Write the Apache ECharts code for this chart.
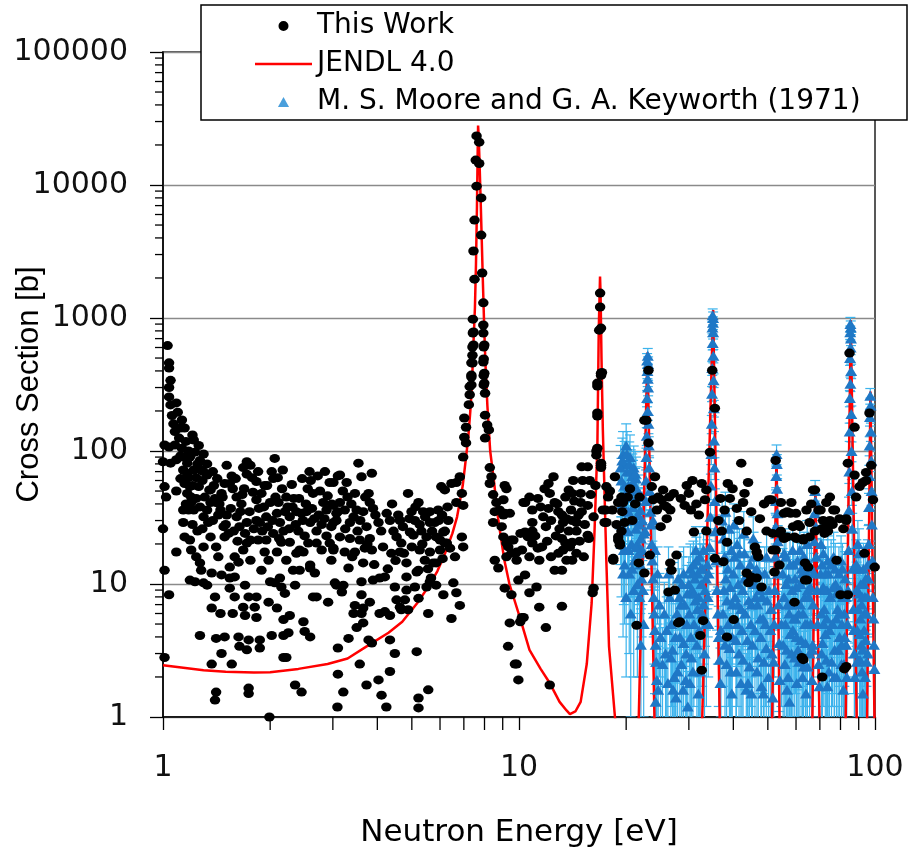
<!DOCTYPE html>
<html><head><meta charset="utf-8">
<script src="https://cdn.jsdelivr.net/npm/echarts@6/dist/echarts.min.js"></script>
<style>html,body{margin:0;padding:0;background:#fff}#c{width:908px;height:850px}</style>
</head><body><div id="c"></div>
<script>
// ---------- axis ticks ----------
const xTickValues = [1, 10, 100];
const yTickValues = [1, 10, 100, 1000, 10000, 100000];
const minorSteps = [2, 3, 4, 5, 6, 7, 8, 9];

// ---------- This Work [E (eV), cross section (b)] ----------
const workLow = [
[1.03,620],[1.04,460],[1.04,420],[1.05,340],[1.04,300],[1.04,255],[1.05,222],[1.09,230],[1.10,196],[1.13,171],[1.12,149],[1.15,149],[1.21,132],[1.22,121],[1.01,111],[1.04,107],[1.08,111],[1.13,105],[1.00,83],[1.05,81],[1.01,54],[1.02,45],[1.00,26],[1.09,50],[1.01,12.7],[1.04,8.3],[1.01,2.8],[1.09,17.4],
[1.06,185],[1.07,160],[1.08,140],[1.11,125],[1.16,118],[1.18,100],[1.12,92],[1.09,86],[1.26,110],[1.30,95],[1.33,80],[1.38,70],[1.42,62],[1.33,66],[1.29,60],[1.40,44],[1.44,40],[1.38,30],[1.48,27],[1.55,37],[1.58,25],[1.66,40],[1.69,52],[1.65,35],[1.96,55],[1.92,38],[2.04,24],[2.24,38],[2.33,44],[2.52,40],[2.55,52],[2.60,60],[2.76,50],[2.85,70],[2.50,23],[2.88,23],[2.42,18],[1.51,78],
[1.27,4.1],[1.37,2.5],[1.41,1.54],[1.40,1.34],[1.41,3.9],[1.46,3.0],[1.49,4.0],[1.56,2.5],[1.63,4.0],[1.64,3.4],[1.72,3.2],[1.74,3.8],[1.74,1.65],[1.74,1.5],[1.87,3.8],[1.87,3.3],[1.99,1.0],[2.02,4.1],[2.18,4.1],[2.25,4.3],[2.18,2.8],[2.22,2.8],[2.35,1.74],[2.45,1.54],[2.48,5.2],[2.50,4.4],[2.59,4.0],
[1.37,6.6],[1.40,8.0],[1.45,6.0],[1.57,6.0],[1.59,8.0],[1.68,6.7],[1.70,5.8],[1.74,8.0],[1.83,8.0],[1.81,6.7],[1.83,5.6],[1.98,7.3],[2.09,6.6],[2.20,8.5],[2.27,5.8],[2.18,5.4],[2.35,9.8],[2.64,8.0],[2.70,8.0],[2.91,7.3],[1.30,10.2],[1.19,10.7],[1.23,10.4],[1.33,9.8],[1.37,12.1],[1.46,11.7],[1.54,11.1],[1.54,9.3],[1.59,11.3],[1.70,9.8],[1.89,12.7],[1.98,15.1],[2.00,10.4],[2.06,10.2],[2.13,11.1],[2.15,9.5],[2.32,12.7],[2.42,12.7],[2.59,13.2],[2.67,12.1],
[1.72,83],[1.76,78],[2.06,88],[2.02,70],[2.10,63],[2.30,56],[2.72,65],[2.94,58],[1.72,67],[1.78,63],[1.83,59],[1.49,57],[1.46,48],[1.54,57],[1.36,51],[1.61,45],[1.79,49],[1.83,43],[1.89,48],[2.00,41],[2.11,41],[2.22,45],[2.37,35],[2.45,34],[2.64,48],[2.82,41],[2.88,36],
[1.14,36],[1.18,36],[1.20,41],[1.27,38],[1.30,32],[1.34,29],[1.41,41],[1.45,36],[1.51,33],[1.61,32],[1.64,27],[1.72,29],[1.83,30],[1.87,29],[1.95,32],[2.09,34],[2.13,29],[2.18,25],[2.27,32],[2.40,25],[2.59,29],[2.70,25],[2.79,28],[2.97,27],
[1.14,29],[1.15,22.6],[1.19,21.4],[1.20,18],[1.24,16],[1.27,14.4],[1.28,12.7],[1.30,19],[1.36,22.6],[1.43,16],[1.41,19],[1.49,22.6],[1.54,13.4],[1.59,16],[1.63,14.6],[1.68,18],[1.72,20.3],[1.76,21.4],[1.76,15.1],[1.85,21.4],[1.93,17.4],[1.95,21.4],[2.09,17.4],[2.15,20.6],[2.22,15.1],[2.27,20.6],[2.37,17],[2.48,17.4],[2.56,20.3],[2.59,13.9],[2.70,20.3],[2.79,18],[2.94,20.3],
[1.14,90],[1.17,81],[1.14,72],[1.18,63],[1.15,57],[1.19,54],[1.17,48],[1.20,45],[1.22,72],[1.24,63],[1.27,85],[1.28,72],[1.26,54],[1.19,90],[1.23,98],[1.24,44],[1.22,36],[1.31,45],[1.35,51],
[1.16,40],[1.21,28],[1.25,25],[1.29,26],[1.33,36],[1.36,41],[1.39,55],[1.43,33],[1.47,45],[1.50,28],[1.53,24],[1.57,52],[1.60,62],[1.62,21],[1.67,47],[1.70,24],[1.75,35],[1.80,26],[1.86,37],[1.90,25],[1.93,55],[1.97,27],[2.03,30],[2.07,45],[2.12,22],[2.16,52],[2.20,35],[2.26,26],[2.31,38],[2.36,28],[2.41,44],[2.47,30],[2.53,35],[2.62,37],[2.66,31],[2.74,33],[2.84,31],[2.90,46],[2.98,40],[2.04,62],[2.17,72],[2.46,62],[2.58,70],[1.85,70],[1.68,75],[1.56,65],[1.21,55],[1.17,68],[1.12,62],[1.25,80],[1.30,70]
];
const workMid = [
[3.10,65],[3.10,35],[3.01,39],[3.07,30],[3.10,3.3],[3.10,2.1],[3.09,1.19],[3.07,9.8],[3.01,18.6],
[7.45,785],[7.45,627],[7.40,525],[7.40,459],[7.35,372],[7.35,314],[7.27,265],[7.23,223],[7.02,177],[7.10,151],[7.02,127],[7.10,115],[6.97,90],[6.82,64],[6.67,58],[6.46,57],[6.19,51],[6.05,54],[6.91,48],[6.67,41],[6.97,39],[6.33,30],[6.91,22.6],[6.97,19],[6.13,24.6],[6.19,20.3],[6.40,18.6],[6.00,18],[6.61,16],[5.85,14.4],[5.66,11.1],[5.85,9.8],[6.54,10.2],[6.67,8.6],[6.82,6.9],[6.13,8.3],[6.46,5.5],[5.56,6.0],[5.16,3.1],[5.22,1.39],[5.22,1.17],[5.56,1.6],[4.34,2.2],[4.24,1.19],[4.11,1.46],[3.73,1.74],[4.03,1.9],[3.57,2.5],[3.21,1.54],[4.48,3.0],[4.34,3.8],[3.78,3.8],[3.86,3.6],[3.32,3.9],[3.50,4.7],[3.65,5.1],[3.61,6.0],[3.43,6.0],[3.46,6.9],[3.65,6.6],[3.81,7.3],[3.61,8.3],[3.61,10.4],[3.04,10.2],[3.21,9.8],[3.18,8.7],[3.89,10.7],[4.06,11.1],[4.20,11.3],[4.06,6.0],[4.20,6.2],[4.34,5.8],[4.48,9.5],[4.53,7.6],[4.63,6.7],[4.78,7.6],[4.83,9.0],[4.83,11.3],[5.10,9.5],[5.22,12.7],[5.22,7.8],[5.50,9.5],[5.62,10.4],[4.88,6.4],[4.67,6.4],
[3.54,81],[3.86,68],[3.61,64],[3.14,66],[3.28,58],[3.01,58],[3.46,48],[3.78,48],[3.81,41],[3.14,41],[3.24,36],[3.43,32],[3.07,34],[3.65,35],[3.89,37],[3.35,29],[3.01,29],[3.73,27],[4.03,29],[3.14,22.6],[3.35,22],[3.57,21.4],[3.81,22],[3.69,18.6],[3.01,18],[3.24,17.4],[3.46,17.4],[3.86,18],[2.97,15.1],[3.32,13.2],[3.65,14.4],[4.34,30],[4.63,30],[4.44,25],[4.53,22.6],[4.67,20.3],[4.38,17],[4.63,17.4],[4.88,48],[4.99,35],[5.22,41],[5.10,30],[5.38,35],[5.62,35],[5.93,36],[4.94,24.6],[5.26,28],[5.62,29],[5.80,29],[5.50,22.6],[5.85,22.6],[5.05,23.3],[5.26,18],[5.62,17.4],[5.44,15.1],[4.83,14.4],[5.16,12.3],[5.74,14.4],[6.00,21.4],[6.27,20.3],[6.19,25],
[3.20,50],[3.30,45],[3.38,40],[3.50,36],[3.58,30],[3.70,45],[3.95,33],[4.10,25],[4.25,34],[4.40,40],[4.58,33],[4.72,27],[4.92,31],[5.12,38],[5.32,25],[5.45,32],[5.70,25],[5.95,30],[6.08,33],[6.30,38],[3.25,26],[3.52,25],[3.75,20],[4.15,19],[4.50,15],[4.75,17],[5.00,19],[5.35,20],[5.55,13],[6.10,15.5],[3.40,16],[3.92,14],[4.28,13],
[7.94,770],[7.99,627],[7.94,466],[7.99,385],[7.99,324],[8.03,272],[8.03,186],[8.14,157],[8.23,144],[8.03,125],[8.28,75],[8.37,64],[8.28,57],[8.46,47],[8.64,41],[8.82,36],[8.55,35],[9.04,33],[8.46,29],[8.94,27],[9.12,55],[9.22,52],[9.42,34],[9.04,22.6],[9.22,20.3],[9.52,21.4],[9.52,17],[8.55,15.1],[8.75,13.2],[9.85,15.1],[9.12,9.3],[9.52,8.3],[9.96,10.7],[9.42,5.1],[9.32,3.4],[9.85,2.5],[9.96,1.9],[9.04,43],[9.12,34],[9.64,21.4],[9.33,19],[9.85,17.4],[9.22,16],[9.74,2.5],
[7.60,23400],[7.73,21000],[7.56,15400],[7.73,14500],[7.60,9800],[7.83,8000],[7.50,5450],[7.83,4200],[7.45,3190],[7.88,2180],[7.50,1960],[7.94,1300],[7.42,980],[7.94,885],[7.42,771],[7.40,605],[7.96,605],[7.96,492],[7.35,460],[7.96,370],[7.35,360],[7.96,314],[7.27,305]
];
const workHigh = [
[10.19,18],[10.30,41],[10.41,24],[10.19,5.6],[10.08,5.2],
[15.0,76],[15.6,76],[14.2,60],[15.1,60],[15.8,60],[16.4,55],[12.5,64],[12.1,57],[11.8,52],[12.2,48],[13.8,51],[14.1,48],[14.9,48],[10.7,45],[10.4,41],[11.3,44],[12.6,41],[12.1,37],[12.9,35],[14.9,41],[15.6,39],[15.0,35],[11.7,32],[13.2,33],[13.6,31],[14.1,30],[14.5,29],[10.9,29],[13.3,29],[13.8,25],[14.5,25],[10.9,25],[10.4,24.6],[10.1,24],[10.6,22.6],[15.6,23.3],[13.2,22],[13.5,20.3],[14.1,20.6],[10.9,20.3],[11.3,18.6],[12.3,16],[12.9,17],[13.3,18],[14.1,15.1],[13.6,15.1],[14.5,17],[10.7,16],[11.4,15.1],[12.6,12.7],[13.2,12.7],[10.4,11.7],[11.2,9.5],[10.7,8.6],[11.4,6.7],[13.2,6.8],[10.3,5.6],[11.9,4.7],[12.2,1.74],
[10.9,36],[11.5,38],[11.9,27],[12.3,30],[12.8,40],[13.0,26],[13.5,45],[14.0,36],[14.3,42],[14.7,33],[15.3,28],[15.9,47],[11.1,23],[11.6,19],[12.0,21],[12.7,23],[13.9,19],[14.8,21],[15.2,16],
[16.9,1540],[16.9,1210],[16.8,810],[17.0,370],[16.6,308],[16.6,183],[16.5,100],[16.5,93],[17.0,75],[16.1,8.6],[15.7,22],[16.2,32],[17.0,385],[16.6,324],[16.6,193],[16.6,105],[17.0,78],[16.2,9.3],[17.0,840],[17.1,390],[17.0,81],
[17.6,54],[17.8,45],[17.5,36],[17.6,29],[18.6,64],[19.0,41],[19.2,20.3],[19.0,22.6],[18.4,15.1],[19.8,29],[20.2,45],[21.4,4.9],[22.5,12.1],[22.5,170],
[19.4,45],[19.6,41],[17.2,36],[17.4,29],[19.4,25],[19.0,21.4],[19.2,19.6],[18.4,15.6],
[18.0,50],[18.3,36],[18.8,28],[19.5,35],[20.5,52],[20.8,30],[21.2,40],[24.4,36],[25.6,39],[26.4,45],[27.2,48],[28.5,44],[29.2,39],[29.6,55],[31.5,40],[32.0,33],[36.8,44],[37.8,36],[39.8,52],[41.5,30],[44.0,58],[47.5,31],[48.8,40],[58.2,41],[60.0,34],[66.2,40],[70.8,26],[76.0,28],[79.5,31],[81.5,26],
[24.1,64],[25.4,51],[24.6,45],[23.8,43],[25.1,43],[26.0,38],[26.6,36],[26.0,31],[25.0,27],[21.8,45],[23.1,405],[22.8,170],[23.1,115],[23.3,16.5],[21.7,14.4],[23.6,54],[26.6,14.4],[26.8,12.7],[27.7,16.5],[26.3,8.7],[27.4,9],[28.3,5.2],[32.3,4.1],[32.6,2.25],[32.9,5.3],[30.0,48],[30.7,60],[32.6,57],[30.4,36],[31.0,24.6],[33.6,51],[33.3,43],[33.6,25],[34.4,98],[34.9,405],[35.5,210],[35.5,15.6],[36.3,30],[37.1,25],[38.4,20.6],[37.5,14.7],[38.6,57],[39.1,44],[42.1,81],[43.0,48],[42.6,41],[44.9,35],[43.6,25],[40.9,37],[46.0,19],[46.5,17.4],[43.6,12.1],[44.9,11.3],[44.1,10.2],[46.5,11.1],[48.0,9.5],[38.4,4.0],[40.1,5.4],[49.6,25],[51.6,24],[51.1,43],[52.6,85],[54.4,41],[55.5,34],[56.7,35],[57.9,34],[54.4,25],[55.5,22],[56.7,22.6],[51.6,18],[53.9,13.9],[58.9,27],[60.2,22],[62.9,22],[64.2,36],[61.5,27],[67.0,51],[69.4,36],[67.8,25],[65.5,22.6],[73.0,41],[76.4,36],[74.7,30],[73.8,25],[71.5,30],[64.9,13.4],[63.6,10.7],[78.0,15.1],[83.0,30],[83.9,81],[87.6,66],[80.0,8.3],[83.9,8.3],[84.8,545],[87.6,151],[90.5,54],[92.4,58],[94.4,60],[96.5,193],[97.6,78],[98.7,43],[99.8,13.4],[62.9,2.7],[71.1,2.0],[82.0,2.3],[28.0,5.1],[52.2,12.3],
[47.0,16],[50.4,43],[60.8,28],[65.5,29],[62.9,21.4],[59.4,22.6],[53.9,24],[67.8,51],[70.3,36],[74.7,45],[77.2,36],[73.0,27],[72.2,24],[63.6,14.4],[64.4,10.7],[52.6,18],[59.4,7.3],[62.3,2.8],[83.0,2.4],[83.0,31],[88.5,45],[94.4,69],[93.4,17]
];

// ---------- JENDL 4.0 evaluated curve ----------
const jendlE = [1.0,1.3,1.5,1.8,2.0,2.4,2.9,3.3,3.8,4.3,4.7,5.2,5.6,5.9,6.2,6.5,6.7,6.95,7.1,7.2,7.3,7.37,7.45,7.52,7.57,7.62,7.655,7.675,7.7,7.74,7.8,7.86,7.92,7.99,8.05,8.15,8.3,8.5,8.75,9.1,9.4,10.1,10.7,11.5,12.2,13.0,13.6,13.9,14.4,14.9,15.5,16.0,16.3,16.6,16.75,16.89,16.95,17.05,17.2,17.6,17.9,18.6,19.2,21.6,22.95,24.1,32.6,35.1,36.7,51.3,52.9,54.0,66.6,68.0,70.0,82.6,85.5,89.0,94.9,97.1,99.8];
const jendlXS = [2.45,2.25,2.19,2.16,2.17,2.3,2.5,2.75,3.5,4.3,5.2,7.3,9.8,12.5,17,24,32,55,90,125,200,300,650,1200,2500,7000,18000,28000,24000,16000,8000,3800,1800,800,450,220,100,60,30,15,10,5.4,3.2,2.3,1.8,1.3,1.12,1.05,1.1,1.3,2.5,7.2,25,107,810,2050,1500,500,144,14.4,3.4,1.0,0.4,0.6,550,0.6,0.7,1150,0.7,0.7,95,0.7,0.7,55,0.7,0.7,960,0.7,0.7,280,0.7];

// ---------- M. S. Moore and G. A. Keyworth (1971) [E, xs, error] ----------
const mooreA = [
[19.4,60,28],[19.6,95,45],[19.8,80,38],[20.0,110,50],[20.1,70,32],[20.3,55,27],[20.5,90,42],[20.6,45,22],[20.8,65,30],[20.9,38,18],[21.0,75,34],[21.1,30,15],[21.2,50,24],[21.3,26,13],[21.4,42,20],[21.5,20,11],[21.6,33,16],[21.7,17,10],[21.8,28,14],[21.9,14,8],[22.0,22,12],[22.1,11,7],[22.2,18,11],[22.3,9,7],[19.5,40,20],[19.9,30,16],[20.2,25,14],[20.7,20,12],[21.1,15,10],[21.5,10,8],[20.4,12,9],[19.7,18,11],
[19.3,28,14],[19.9,48,22],[20.3,35,17],[20.7,55,25],[21.3,62,28],[20.0,8,6],[20.6,6,5],[21.0,9,7],[19.6,12,8],
[19.3,75,35],[19.5,85,40],[19.8,55,26],[20.1,95,45],[20.4,80,37],[20.6,70,32],[20.9,58,27],[21.2,68,31],[21.4,52,24],[21.7,45,21],[21.9,36,17],[22.2,30,15],[22.4,24,12],[19.4,20,12],[19.8,14,9],[20.3,18,10],[20.8,13,8],[21.3,19,11],[21.8,8,6],[22.4,5,4],[22.0,3.5,3],
[22.9,480,60],[23.0,520,70],[23.05,450,60],[22.95,400,50],[23.0,350,45],[23.05,300,40],[22.9,250,35],[23.0,200,30],[23.1,160,25],[22.85,130,20],[23.15,110,18],[22.8,90,15],[23.2,75,14],[22.75,60,12],[23.3,50,10],[22.7,42,10],[23.4,35,9],[23.5,28,8],[22.6,25,8],[23.6,20,7],[23.7,15,6],[23.8,11,5],[23.9,8,4],[24.0,6,3.5],[24.1,4.5,3],[24.2,3.5,2.5],[24.3,2.6,2],[24.4,1.9,1.5],[24.2,1.3,1.1],
[23.8,30,12],[24.1,18,9],[24.5,12,7],[24.8,7,5],[25.0,4,3.2],[25.3,2.5,2.2],[24.6,1.6,1.4],[25.8,3,2.5],[26.2,1.8,1.5]
];
const mooreB = [
[26.5,8,5],[26.8,5,3.8],[27.0,3.2,2.6],[27.3,2.0,1.7],[27.6,1.4,1.2],[27.8,6,4.2],[28.0,11,6.5],[28.3,4,3.2],[28.6,2.5,2.1],[28.9,1.6,1.4],[29.2,7,4.6],[29.5,3,2.5],[29.8,1.2,1.0],[30.0,10,6],[30.3,13,7],[30.6,9,5.5],[30.9,14,7],[31.2,11,6],[31.5,15,7.5],[31.8,12,6.5],[32.0,8,5],[32.2,16,8],[32.5,10,6],[32.8,13,7],[33.0,7,4.5],[31.0,5,3.8],[31.6,3.5,2.8],[32.3,2.2,1.9],[30.5,2.8,2.3],
[27.1,9,5.5],[28.5,7,4.5],[29.0,12,7],[29.6,5,3.8],[30.2,1.8,1.6],[31.3,7.5,4.8],[31.9,1.5,1.3],[33.2,3,2.5],[33.5,11,6.5],
[25.6,6,4.3],[26.0,4.5,3.5],[26.3,12,7],[26.7,2.8,2.3],[27.1,1.6,1.4],[27.5,4,3.1],[27.9,2.2,1.9],[28.2,8,5],[28.7,10,6],[29.0,3.6,2.9],[29.4,1.9,1.7],[29.7,8.5,5.3],[30.1,6,4.3],[30.4,4,3.2],[30.7,12,7],[30.8,2.2,1.9],[31.1,8.5,5.3],[31.4,18,9],[31.7,6.5,4.5],[32.1,4.5,3.5],[32.4,13,7],[32.7,6,4.3],[33.0,18,9],[33.3,9,5.6],[33.6,5,3.8],[33.8,14,7.5],
[35.0,1050,120],[35.1,1000,110],[35.05,920,100],[34.95,850,90],[35.1,780,85],[35.0,650,75],[35.15,520,60],[34.9,420,50],[35.2,340,40],[34.85,270,35],[35.25,210,30],[34.8,160,25],[35.3,120,20],[34.7,95,16],[35.4,75,14],[34.6,55,12],[35.5,42,10],[34.5,32,9],[35.6,25,8],[34.3,19,7],[35.8,15,6],[34.1,12,5],[36.0,9,4.5],[36.2,6,3.5],[36.4,4,2.8],[36.6,2.7,2.1],[36.8,1.8,1.5],[33.9,8,4],[34.0,5,3]
];
const mooreC = [
[37.2,30,13],[37.5,22,10],[37.8,16,8.5],[38.1,11,6.5],[38.4,7.5,5],[38.7,5,3.8],[39.0,3.3,2.7],[39.3,2.2,1.9],[39.6,1.5,1.3],[38.0,35,14],[38.9,26,11],[39.5,18,9],[40.0,12,7],[40.5,8,5.2],[41.0,5,3.8],[41.5,3,2.5],[42.0,1.8,1.6],[40.2,28,12],[41.0,20,10],[41.8,14,8],[42.5,9,5.8],[43.2,6,4.4],[43.8,3.8,3],[44.4,2.4,2],[45.0,1.5,1.3],[43.0,17,9],[44.0,11,6.5],[45.0,7,5],[46.0,4.5,3.6],[47.0,2.8,2.3],[48.0,1.7,1.5],[46.5,13,7.5],[47.5,9,5.8],[48.5,5.5,4],[49.5,3.3,2.7],[50.2,2.0,1.7],[49.0,12,7],[45.5,22,10],[42.8,24,11],
[36.9,4.5,3.5],[37.6,9,5.5],[38.3,2.5,2.1],[39.8,7,4.5],[40.8,2.2,1.9],[41.3,10,6],[42.3,4.5,3.5],[44.0,1.8,1.6],[44.8,5,3.8],[45.8,10,6],[46.8,7,4.6],[47.8,4,3.2],[48.8,2.6,2.2],[49.8,7.5,4.8],[50.8,4.5,3.5],
[37.4,6,4.3],[37.9,3.5,2.8],[38.6,13,7.2],[39.2,9.5,5.8],[39.7,4,3.2],[40.3,16,8.5],[40.7,3.8,3],[41.2,7,4.6],[41.6,17,9],[42.1,6.5,4.5],[42.6,2.7,2.3],[43.0,11,6.5],[43.5,1.6,1.4],[44.2,7.5,4.8],[44.6,14,7.5],[45.3,3.5,2.8],[45.6,16,8.5],[46.2,8,5.2],[46.6,2.2,1.9],[47.2,12,7],[47.6,5.5,4],[48.2,8,5.2],[48.6,1.5,1.3],[49.2,5,3.8],[49.6,16,8.5],[50.4,9,5.6],[51.0,6.5,4.5],[51.3,3,2.5],
[52.9,95,16],[53.0,80,14],[52.8,65,12],[53.1,52,10],[52.7,42,9],[53.2,34,8],[52.6,27,7],[53.3,21,6.5],[52.5,16,6],[53.4,12,5],[52.3,9,4.5],[53.6,7,3.8],[52.1,5,3],[53.8,3.6,2.5],[51.9,2.6,2],[54.0,1.9,1.5],[51.6,1.4,1.2],
[55,12,6.5],[55.5,8,5],[56,5,3.8],[56.5,3.2,2.6],[57,2,1.7],[57.5,1.3,1.1],[56.2,16,8.5],[57.2,11,6.5],[58,7,4.6],[58.8,4.5,3.5],[59.5,2.8,2.3],[60.3,1.8,1.6],[59,14,7.5],[60,9.5,5.8],[61,6,4.4],[62,3.8,3],[63,2.4,2],[64,1.5,1.3],[61.5,18,9],[62.5,12,7],[63.5,8,5.2],[64.5,5,3.8],[65.5,3,2.5],[66.5,1.9,1.6],[64.5,20,10],[65.5,14,7.5],
[55.8,2.5,2.1],[56.8,7,4.6],[57.8,4.2,3.3],[58.5,9,5.6],[59.8,5.5,4],[60.8,3.2,2.6],[61.8,10,6],[62.8,6,4.3],[63.8,3.6,2.9],[64.8,9,5.6],[66.0,5,3.8],
[54.6,5,3.8],[55.2,3.5,2.8],[55.6,17,9],[56.3,10,6],[56.6,1.6,1.4],[57.4,6,4.3],[57.7,14,7.5],[58.3,3,2.5],[58.7,18,9],[59.2,5.5,4],[59.6,11,6.5],[60.2,4,3.2],[60.6,15,8],[61.2,2.6,2.2],[61.6,7,4.6],[62.2,13,7.2],[62.6,2,1.7],[63.2,16,8.5],[63.6,5,3.8],[64.2,12,7],[64.6,2.4,2.1],[65.2,8,5.2],[65.8,9.5,5.8],[66.3,13,7.2],[66.6,3.2,2.6]
];
const mooreD = [
[67.9,50,10],[68.0,42,9],[67.7,34,8],[68.2,27,7],[67.5,21,6.5],[68.4,16,6],[67.3,12,5],[68.7,9,4.5],[67.0,7,3.8],[69.0,5,3],[66.8,3.5,2.5],[69.4,2.5,2],[69.8,1.7,1.4],
[70.5,20,10],[71,14,7.5],[71.5,9.5,5.8],[72,6.5,4.5],[72.5,4.2,3.3],[73,2.7,2.3],[73.5,1.7,1.5],[74,12,7],[75,8,5.2],[76,5,3.8],[77,3.2,2.6],[78,2,1.7],[76.5,16,8.5],[77.5,10,6],[78.5,6.5,4.5],[79.5,4,3.2],[80.5,2.5,2.1],[81.5,1.6,1.4],[80,9,5.6],[81,13,7.2],[82,6,4.3],[83,3.5,2.8],
[70.8,3,2.5],[71.8,5,3.8],[73.3,9,5.6],[74.5,4.5,3.5],[75.5,2.6,2.2],[77.8,5.5,4],[79.0,9,5.6],[80.8,5,3.8],[82.4,11,6.5],
[70.3,12,7],[70.6,6,4.3],[71.2,3.6,2.9],[71.6,17,9],[72.2,9,5.6],[72.7,12,7],[73.2,5.5,4],[73.7,15,8],[74.2,2.2,1.9],[74.8,8,5.2],[75.3,14,7.5],[75.8,5,3.8],[76.3,9.5,5.8],[76.8,2,1.7],[77.3,13,7.2],[78.2,8.5,5.3],[78.8,3.2,2.6],[79.2,12,7],[79.8,6,4.3],[80.3,15,8],[80.6,3.5,2.8],[81.2,8,5.2],[81.8,2.5,2.1],[82.2,4,3.2],[82.8,8,5.2],[83.3,2,1.7],
[85.3,900,110],[85.5,850,100],[85.2,780,90],[85.6,700,80],[85.4,600,70],[85.1,500,60],[85.7,400,50],[85.3,320,40],[85.0,250,35],[85.8,190,28],[84.9,140,22],[85.9,100,17],[84.7,70,13],[86.1,50,11],[84.5,36,9],[86.3,26,8],[84.3,18,7],[86.6,13,5.5],[84.0,9,4.5],[86.9,6.5,3.7],[87.2,4.5,3],[87.5,3,2.2],[87.8,2,1.6],[83.7,5,3],
[89.5,20,10],[90,13,7.2],[90.5,8.5,5.4],[91,5.5,4],[91.5,3.5,2.8],[92,2.2,1.9],[92.5,1.5,1.3],[93,10,6],[93.5,6,4.3],[94,3.8,3],
[88.8,9,5.6],[89.2,4.5,3.5],[90.8,2.7,2.3],[92.2,8,5.2],[93.8,2,1.7],[94.6,6,4.3],[95.4,3,2.5],
[88.6,14,7.5],[89.0,2.6,2.2],[89.7,6.5,4.5],[90.2,17,9],[90.6,4.2,3.3],[91.2,10,6],[91.8,7,4.6],[92.3,3.2,2.6],[92.8,13,7.2],[93.2,4.5,3.5],[93.7,8,5.2],[94.2,11,6.5],[94.8,2.6,2.2],[95.2,8,5.2],[95.5,14,7.5],
[97.0,260,35],[97.2,220,30],[96.8,180,26],[97.4,140,22],[96.6,110,18],[97.6,85,15],[96.4,65,13],[97.8,50,11],[96.2,38,10],[98.0,28,8.5],[96.0,20,7.5],[98.3,15,6],[95.8,11,5],[98.6,8,4],[99.0,5.5,3.3],[99.3,3.5,2.5],[99.6,2.3,1.9]
];

// ---------- build ----------
const thisWork = workLow.concat(workMid, workHigh);
const moore = mooreA.concat(mooreB, mooreC, mooreD);
const jendl = jendlE.map((e, i) => [e, jendlXS[i]]);
const xMinor = [], yMinor = [];
xTickValues.slice(0, -1).forEach(d => minorSteps.forEach(m => xMinor.push(m * d)));
yTickValues.slice(0, -1).forEach(d => minorSteps.forEach(m => yMinor.push(m * d)));

const NAME_WORK = 'This Work', NAME_JENDL = 'JENDL 4.0', NAME_MOORE = 'M. S. Moore and G. A. Keyworth (1971)';
const tickFont = 'DejaVu Sans';

const chart = echarts.init(document.getElementById('c'), null, {renderer: 'canvas'});
chart.setOption({
  animation: false,
  backgroundColor: '#fff',
  grid: {left: 163, right: 33, top: 52, bottom: 133, containLabel: false, outerBoundsMode: 'none',
    show: true, borderColor: '#222', borderWidth: 1.5, backgroundColor: 'transparent'},
  xAxis: {
    type: 'log', logBase: 10, min: 1, max: 100,
    axisLine: {lineStyle: {color: '#000', width: 1.5}},
    axisTick: {length: 13, lineStyle: {color: '#000', width: 1.3}},
    splitLine: {show: false},
    axisLabel: {fontFamily: tickFont, fontSize: 30, color: '#111', margin: 36, showMinLabel: true, showMaxLabel: true, hideOverlap: false,
      formatter: v => String(Math.round(v))},
    name: 'Neutron Energy [eV]', nameLocation: 'middle', nameGap: 100, nameMoveOverlap: false,
    nameTextStyle: {fontFamily: tickFont, fontSize: 31, color: '#000'}
  },
  yAxis: {
    type: 'log', logBase: 10, min: 1, max: 100000,
    axisLine: {lineStyle: {color: '#000', width: 1.5}},
    axisTick: {length: 13, lineStyle: {color: '#000', width: 1.3}},
    splitLine: {show: true, lineStyle: {color: '#8a8a8a', width: 1.3}},
    axisLabel: {fontFamily: tickFont, fontSize: 30, color: '#111', margin: 35, showMinLabel: true, showMaxLabel: true,
      formatter: v => String(Math.round(v))},
    name: 'Cross Section [b]', nameLocation: 'middle', nameGap: 118, nameRotate: 90, nameMoveOverlap: false,
    nameTextStyle: {fontFamily: 'Liberation Sans', fontSize: 31, color: '#000'}
  },
  legend: {
    left: 255, top: 11, orient: 'vertical', padding: 0, itemWidth: 57, itemHeight: 10, itemGap: 8, z: 20,
    selectedMode: false, symbolKeepAspect: true,
    textStyle: {fontFamily: tickFont, fontSize: 28, color: '#000', lineHeight: 30},
    data: [
      {name: NAME_WORK, icon: 'path://M5,0A5,5,0,1,1,4.99,0Z', itemStyle: {color: '#000'}},
      {name: NAME_JENDL, icon: 'path://M0,0L57,0L57,2.6L0,2.6Z', itemStyle: {color: '#ff0000'}},
      {name: NAME_MOORE, icon: 'path://M5,0L10,9L0,9Z', itemStyle: {color: '#4a9fdc'}}
    ]
  },
  graphic: [{type: 'rect', z: 15, shape: {x: 201, y: 5, width: 706, height: 115},
    style: {fill: '#fff', stroke: '#000', lineWidth: 1.5}}],
  series: [
    {
      type: 'custom', name: 'errbars', silent: true, clip: true, z: 1,
      data: moore,
      encode: {x: 0, y: 1},
      renderItem: function (params, api) {
        const e = api.value(0), v = api.value(1), er = api.value(2);
        const hi = api.coord([e, v + er]);
        const lo = api.coord([e, Math.max(v - er, 0.05)]);
        const hw = 5;
        const st = {stroke: '#3cb3ec', lineWidth: 1.2};
        return {type: 'group', children: [
          {type: 'line', shape: {x1: hi[0], y1: hi[1], x2: lo[0], y2: lo[1]}, style: st},
          {type: 'line', shape: {x1: hi[0] - hw, y1: hi[1], x2: hi[0] + hw, y2: hi[1]}, style: st},
          {type: 'line', shape: {x1: lo[0] - hw, y1: lo[1], x2: lo[0] + hw, y2: lo[1]}, style: st}
        ]};
      }
    },
    {
      type: 'line', name: NAME_JENDL, data: jendl, symbol: 'none', showSymbol: false, clip: true, z: 2,
      lineStyle: {color: '#ff0000', width: 2.5}, itemStyle: {color: '#ff0000'}
    },
    {
      type: 'scatter', name: NAME_MOORE, data: moore.map(d => [d[0], d[1]]), symbol: 'triangle', symbolSize: [12, 10],
      itemStyle: {color: '#1f78c6', opacity: 1}, z: 3, clip: true
    },
    {
      type: 'scatter', name: NAME_WORK, data: thisWork, symbol: 'circle', symbolSize: [10.5, 9],
      itemStyle: {color: '#000', opacity: 1}, z: 4, clip: true
    },
    {
      type: 'custom', name: 'xminor', silent: true, clip: false, z: 5,
      data: xMinor.map(v => [v, 1]), encode: {x: 0, y: 1},
      renderItem: function (params, api) {
        const c = api.coord([api.value(0), api.value(1)]);
        return {type: 'line', shape: {x1: c[0], y1: c[1], x2: c[0], y2: c[1] + 13}, style: {stroke: '#000', lineWidth: 1.3}};
      }
    },
    {
      type: 'custom', name: 'yminor', silent: true, clip: false, z: 5,
      data: yMinor.map(v => [1, v]), encode: {x: 0, y: 1},
      renderItem: function (params, api) {
        const c = api.coord([api.value(0), api.value(1)]);
        return {type: 'line', shape: {x1: c[0] - 8, y1: c[1], x2: c[0], y2: c[1]}, style: {stroke: '#000', lineWidth: 1.3}};
      }
    }
  ]
});
</script>
</body></html>
